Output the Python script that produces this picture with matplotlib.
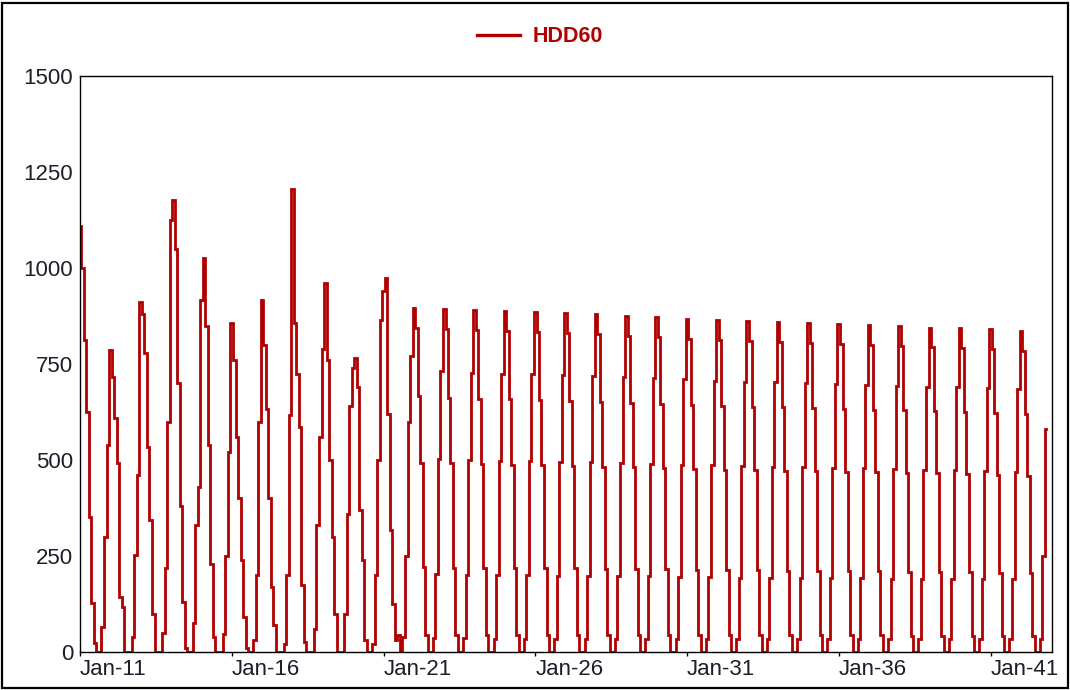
import datetime as dt
import matplotlib
matplotlib.use("Agg")
import matplotlib.pyplot as plt
import matplotlib.dates as mdates
from matplotlib.patches import Rectangle

# ---- data (monthly HDD60, Jan-2011 .. Nov-2042) ----
start_year = 2011
hdd_hist = [
    1110, 1000, 812, 625, 352, 127, 23, 0, 0, 65, 300, 538,    # 2011
    786, 717, 609, 491, 143, 116, 0, 0, 0, 39, 252, 460,       # 2012
    912, 880, 778, 534, 343, 100, 0, 0, 0, 50, 220, 600,       # 2013
    1125, 1177, 1050, 700, 380, 130, 10, 0, 0, 75, 330, 430,   # 2014
    916, 1025, 850, 540, 230, 40, 0, 0, 0, 48, 250, 520,       # 2015
    856, 760, 560, 400, 240, 90, 10, 0, 0, 30, 200, 600,       # 2016
    916, 800, 634, 400, 169, 70, 0, 0, 0, 20, 200, 617,        # 2017
    1207, 856, 725, 586, 174, 26, 0, 0, 0, 60, 330, 560,       # 2018
    790, 960, 760, 500, 300, 100, 0, 0, 0, 100, 360, 640,      # 2019
    740, 765, 690, 369, 240, 30, 0, 0, 20, 200, 500, 864,      # 2020
    940, 973, 620, 317, 126, 30, 45, 0, 40, 250, 600, 770,     # 2021
]
hdd_proj = [
    897, 845, 666, 493, 222, 45, 0, 0, 36, 202, 502, 731,      # 2022
    892, 840, 662, 491, 220, 45, 0, 0, 36, 201, 500, 727,      # 2023
    890, 838, 660, 490, 220, 45, 0, 0, 35, 200, 498, 725,      # 2024
    887, 835, 658, 488, 219, 44, 0, 0, 35, 200, 497, 723,      # 2025
    885, 833, 657, 487, 219, 44, 0, 0, 35, 199, 496, 721,      # 2026
    882, 830, 654, 485, 218, 44, 0, 0, 35, 198, 494, 719,      # 2027
    879, 827, 652, 483, 217, 44, 0, 0, 35, 198, 492, 716,      # 2028
    875, 823, 649, 481, 216, 44, 0, 0, 35, 197, 490, 713,      # 2029
    872, 820, 647, 480, 215, 44, 0, 0, 35, 196, 488, 711,      # 2030
    867, 815, 643, 477, 214, 43, 0, 0, 35, 195, 486, 707,      # 2031
    864, 812, 641, 475, 213, 43, 0, 0, 35, 194, 484, 704,      # 2032
    861, 809, 639, 474, 213, 43, 0, 0, 34, 194, 482, 702,      # 2033
    859, 807, 637, 472, 212, 43, 0, 0, 34, 193, 481, 700,      # 2034
    856, 804, 635, 471, 211, 43, 0, 0, 34, 193, 479, 698,      # 2035
    853, 801, 633, 469, 211, 43, 0, 0, 34, 192, 478, 695,      # 2036
    851, 799, 631, 468, 210, 43, 0, 0, 34, 191, 477, 694,      # 2037
    848, 796, 629, 466, 209, 42, 0, 0, 34, 191, 475, 691,      # 2038
    845, 793, 627, 465, 209, 42, 0, 0, 34, 190, 473, 689,      # 2039
    843, 791, 626, 464, 208, 42, 0, 0, 34, 190, 472, 687,      # 2040
    840, 788, 623, 462, 207, 42, 0, 0, 34, 189, 470, 685,      # 2041
    835, 783, 620, 459, 206, 42, 0, 0, 33, 250, 580,           # 2042
]
series_name = "HDD60"
y_ticks = [0, 250, 500, 750, 1000, 1250, 1500]
x_tick_years = [2011, 2016, 2021, 2026, 2031, 2036, 2041]

values = hdd_hist + hdd_proj
dates = [dt.date(start_year + i // 12, i % 12 + 1, 1) for i in range(len(values))]

# ---- figure ----
W, H = 1070, 690
fig = plt.figure(figsize=(W / 100, H / 100), dpi=100)
fig.patch.set_facecolor("white")
fig.patches.append(Rectangle((2 / W, 2 / H), 1 - 4 / W, 1 - 5 / H, transform=fig.transFigure,
                             fill=False, edgecolor="black", linewidth=1.6))

ax = fig.add_axes([80 / W, 1 - 652 / H, (1052 - 80) / W, (652 - 76) / H])
line_color = "#B00000"
ax.plot(dates, values, color=line_color, linewidth=2.0, label=series_name,
        drawstyle="steps-mid", solid_joinstyle="miter")

ax.set_ylim(0, 1500)
ax.set_xlim(dt.date(2011, 1, 1), dt.date(2043, 1, 10))
ax.set_yticks(y_ticks)
ax.set_yticklabels([str(v) for v in y_ticks])
ax.set_xticks([dt.date(y, 1, 1) for y in x_tick_years])
ax.xaxis.set_major_formatter(mdates.DateFormatter("%b-%y"))

font = "Liberation Sans"
txt_color = "#1e1e2a"
for lab in ax.get_yticklabels():
    lab.set_fontfamily(font)
    lab.set_fontsize(16)
    lab.set_color(txt_color)
for lab in ax.get_xticklabels():
    lab.set_fontfamily(font)
    lab.set_fontsize(16)
    lab.set_color(txt_color)
    lab.set_horizontalalignment("left")

ax.tick_params(axis="y", length=0, pad=5)
ax.tick_params(axis="x", length=3, width=1, direction="out", pad=2, color="black")
for sp in ax.spines.values():
    sp.set_color("black")
    sp.set_linewidth(1.0)

leg = fig.legend(loc="center", bbox_to_anchor=(540 / W, 1 - 37 / H), frameon=False,
                 handlelength=2.0, handletextpad=0.55,
                 prop={"family": font, "size": 15.5, "weight": "bold"})
for t in leg.get_texts():
    t.set_color(line_color)
for l in leg.get_lines():
    l.set_linewidth(2.4)
    l.set_drawstyle("default")

fig.savefig("out.png", dpi=100, facecolor="white")
